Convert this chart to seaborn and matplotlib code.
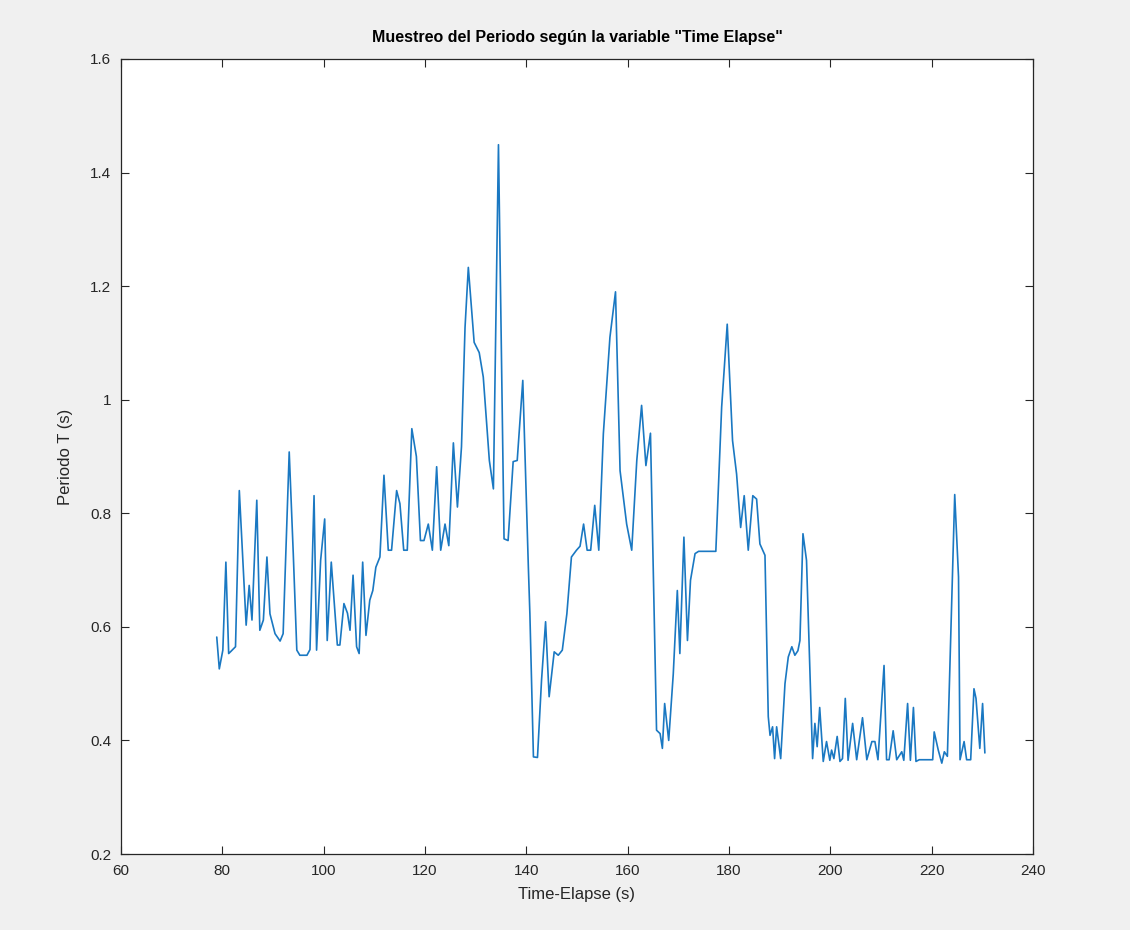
import numpy as np
import pandas as pd
import matplotlib
matplotlib.use("Agg")
import matplotlib.pyplot as plt
import seaborn as sns

# values
time_elapse = [
    78.9, 79.4, 80.1, 80.7, 81.25, 81.6, 82.6, 83.35, 84.7, 85.3, 85.85, 86.8, 87.4,
    88.1, 88.8, 89.4, 90.4, 91.4, 92.0, 93.2, 94.0, 94.7, 95.3, 96.7, 97.3, 98.1,
    98.6, 99.4, 100.2, 100.7, 101.5, 102.7, 103.2, 104.0, 104.7, 105.2, 105.8,
    106.5, 107.0, 107.7, 108.35, 109.1, 109.7, 110.3, 111.1, 111.9, 112.75, 113.4,
    114.4, 115.05, 115.8, 116.5, 117.4, 118.3, 119.1, 119.8, 120.65, 121.45, 122.3,
    123.1, 123.95, 124.7, 125.6, 126.4, 127.2, 127.9, 128.55, 129.7, 130.7, 131.5,
    132.7, 133.5, 134.5, 135.6, 136.4, 137.4, 138.2, 139.3, 140.4, 140.7, 141.4,
    142.2, 143.0, 143.8, 144.5, 145.5, 146.3, 147.1, 148.0, 148.9, 149.9, 150.6,
    151.3, 152.0, 152.7, 153.5, 154.3, 155.2, 156.5, 157.6, 158.5, 159.8, 160.8,
    161.8, 162.75, 163.6, 164.5, 165.7, 166.4, 166.85, 167.3, 168.1, 169.0, 169.8,
    170.3, 171.1, 171.8, 172.4, 173.3, 174.0, 177.4, 178.55, 179.65, 180.7, 181.5,
    182.3, 183.0, 183.8, 184.7, 185.45, 186.1, 187.1, 187.75, 188.1, 188.6, 189.0,
    189.4, 190.2, 191.05, 191.7, 192.4, 193.0, 193.6, 194.0, 194.6, 195.3, 196.5,
    196.95, 197.4, 197.9, 198.6, 199.25, 199.9, 200.25, 200.7, 201.35, 201.9, 202.4,
    202.95, 203.5, 204.4, 205.2, 206.35, 207.2, 208.2, 208.8, 209.4, 210.6, 211.1,
    211.6, 212.4, 213.1, 214.1, 214.5, 215.25, 215.8, 216.4, 216.9, 217.55, 220.2,
    220.5, 221.3, 222.0, 222.5, 223.1, 224.55, 225.3, 225.6, 226.4, 226.9, 227.7,
    228.35, 228.75, 229.5, 230.05, 230.5,
]
periodo = [
    0.582, 0.526, 0.559, 0.714, 0.553, 0.556, 0.565, 0.840, 0.603, 0.673, 0.612, 0.823, 0.594,
    0.612, 0.723, 0.623, 0.588, 0.575, 0.588, 0.908, 0.729, 0.559, 0.550, 0.550, 0.560, 0.831,
    0.559, 0.717, 0.790, 0.576, 0.714, 0.568, 0.568, 0.641, 0.624, 0.594, 0.691,
    0.565, 0.553, 0.714, 0.585, 0.647, 0.664, 0.705, 0.723, 0.867, 0.735, 0.735,
    0.840, 0.817, 0.735, 0.735, 0.949, 0.900, 0.752, 0.752, 0.781, 0.735, 0.882,
    0.735, 0.781, 0.743, 0.924, 0.811, 0.917, 1.127, 1.233, 1.101, 1.083, 1.040,
    0.893, 0.843, 1.449, 0.755, 0.752, 0.891, 0.893, 1.034, 0.705, 0.623, 0.371,
    0.370, 0.506, 0.609, 0.477, 0.556, 0.550, 0.559, 0.623, 0.723, 0.735, 0.742,
    0.781, 0.735, 0.735, 0.814, 0.735, 0.940, 1.110, 1.190, 0.875, 0.781, 0.735,
    0.893, 0.990, 0.884, 0.941, 0.418, 0.412, 0.386, 0.465, 0.400, 0.517, 0.664,
    0.553, 0.758, 0.576, 0.682, 0.729, 0.733, 0.733, 0.987, 1.133, 0.928, 0.869,
    0.775, 0.831, 0.735, 0.831, 0.825, 0.746, 0.726, 0.442, 0.409, 0.424, 0.368,
    0.424, 0.368, 0.500, 0.547, 0.565, 0.550, 0.558, 0.576, 0.764, 0.717, 0.368,
    0.430, 0.389, 0.458, 0.363, 0.398, 0.365, 0.383, 0.368, 0.407, 0.363, 0.368,
    0.474, 0.365, 0.430, 0.366, 0.440, 0.366, 0.398, 0.398, 0.366, 0.532, 0.366,
    0.366, 0.417, 0.366, 0.380, 0.365, 0.465, 0.365, 0.458, 0.363, 0.366, 0.366,
    0.415, 0.383, 0.360, 0.380, 0.372, 0.833, 0.688, 0.366, 0.398, 0.366, 0.366,
    0.491, 0.474, 0.386, 0.465, 0.378,
]
x_ticks = [60, 80, 100, 120, 140, 160, 180, 200, 220, 240]
y_ticks = [0.2, 0.4, 0.6, 0.8, 1.0, 1.2, 1.4, 1.6]
y_ticklabels = ["0.2", "0.4", "0.6", "0.8", "1", "1.2", "1.4", "1.6"]

df = pd.DataFrame({"t": time_elapse, "T": periodo})

sns.set_style("ticks")
plt.rcParams["font.family"] = ["Liberation Sans", "DejaVu Sans"]

fig = plt.figure(figsize=(11.3, 9.3), dpi=100, facecolor="#f0f0f0")
ax = fig.add_axes([121 / 1130, 76 / 930, 912 / 1130, 795 / 930])
ax.set_facecolor("white")

sns.lineplot(data=df, x="t", y="T", sort=False, estimator=None,
             color="#1a78c2", linewidth=1.2, ax=ax)

ax.set_xlim(60, 240)
ax.set_ylim(0.2, 1.6)
ax.set_xticks(x_ticks)
ax.set_yticks(y_ticks)
ax.set_yticklabels(y_ticklabels)
ax.tick_params(direction="in", length=6, width=0.8, colors="#262626",
               labelsize=11, top=True, right=True, pad=7)
for s in ax.spines.values():
    s.set_visible(True)
    s.set_color("#262626")
    s.set_linewidth(0.9)

ax.set_xlabel("Time-Elapse (s)", fontsize=12, color="#262626", labelpad=7)
ax.set_ylabel("Periodo T (s)", fontsize=12, color="#262626", labelpad=12)
ax.set_title('Muestreo del Periodo según la variable "Time Elapse"',
             fontsize=11.5, fontweight="bold", color="black", pad=12)

fig.savefig("out.png", dpi=100, facecolor=fig.get_facecolor())
